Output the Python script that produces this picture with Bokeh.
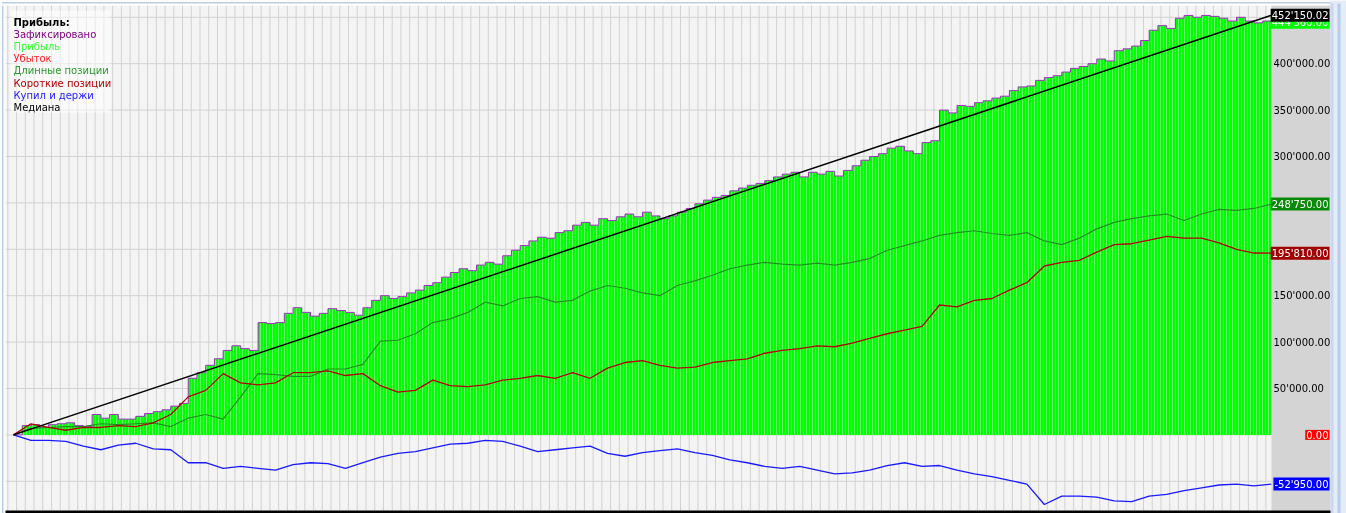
import numpy as np
from bokeh.plotting import figure
from bokeh.models import Range1d, Label, BoxAnnotation
from bokeh.embed import file_html
from bokeh.resources import INLINE

# ---------------- data (values in thousands unless stated) ----------------
profit_k = [0, 10, 11, 8, 11, 12, 13, 10, 9, 22, 18, 22, 17, 17, 20, 23, 25, 27, 31, 34,
            61, 67, 75, 82, 91, 96, 93, 91, 121, 120, 121, 131, 137, 132, 128, 131, 136, 134, 132, 129,
            137, 145, 150, 147, 149, 153, 156, 161, 164, 170, 175, 179, 177, 183, 186, 184, 193, 199, 204, 209,
            213, 212, 218, 220, 226, 229, 226, 233, 231, 235, 238, 235, 240, 236, 233, 236, 240, 244, 249, 253,
            256, 258, 263, 266, 269, 271, 274, 278, 281, 283, 278, 283, 281, 284, 279, 285, 290, 296, 300, 303,
            309, 311, 306, 303, 315, 317, 350, 347, 355, 354, 358, 360, 363, 365, 371, 375, 376, 382, 385, 387,
            391, 395, 397, 400, 405, 403, 414, 416, 419, 425, 436, 441, 438, 449, 452, 450, 452, 451, 449, 446,
            450, 446, 444, 446, 444.56]

long_k = [0, 7, 8, 9, 9, 12, 11, 12, 13, 9, 18, 22, 17, 41, 66, 65, 63, 63, 71, 71,
          76, 101, 102, 109, 121, 125, 132, 143, 139, 147, 149, 143, 145, 155, 161, 158, 153, 150, 161, 166,
          172, 179, 183, 186, 184, 183, 185, 183, 186, 190, 199, 204, 209, 215, 218, 220, 217, 215, 218, 209,
          205, 212, 222, 229, 233, 236, 238, 231, 238, 243, 242, 244, 248.75]

short_k = [0, 12, 8, 5, 8, 8, 10, 9, 13, 22, 41, 48, 66, 56, 54, 56, 67, 67, 69, 64,
           66, 53, 46, 48, 59, 53, 52, 54, 59, 61, 64, 61, 67, 61, 72, 78, 80, 75, 72, 73,
           78, 80, 82, 88, 91, 93, 96, 95, 99, 104, 109, 113, 117, 140, 138, 145, 147, 156, 164, 182,
           186, 188, 197, 205, 206, 210, 214, 212, 212, 207, 200, 196, 195.81]

buy_hold_k = [0, -6, -6, -7, -12, -16, -11, -9, -15, -16, -30, -30, -36, -34, -36, -38, -32, -30, -31, -36,
              -30, -24, -20, -18, -14, -10, -9, -6, -7, -12, -18, -16, -14, -12, -20, -23, -19, -17, -15, -19,
              -22, -27, -30, -34, -36, -34, -38, -42, -41, -38, -33, -30, -34, -33, -38, -42, -45, -49, -53, -75,
              -66, -66, -67, -71, -72, -66, -64, -60, -57, -54, -53, -55, -52.95]

median_values = [0.0, 452150.02]

legend_labels = ["Прибыль:", "Зафиксировано", "Прибыль", "Убыток", "Длинные позиции",
                 "Короткие позиции", "Купил и держи", "Медиана"]
legend_colors = ["#000000", "#800080", "#33ff33", "#ff1a1a", "#2a9a2a", "#b00000", "#2020ff", "#000000"]

y_ticks = [-50000, 0, 50000, 100000, 150000, 200000, 250000, 300000, 350000, 400000, 450000]
y_tick_labels = ["", "", "50'000.00", "100'000.00", "150'000.00", "", "", "300'000.00",
                 "350'000.00", "400'000.00", ""]

marker_values = [444560.00, 452150.02, 248750.00, 195810.00, 0.00, -52950.00]
marker_texts = ["444'560.00", "452'150.02", "248'750.00", "195'810.00", "0.00", "-52'950.00"]
marker_colors = ["#00ff00", "#000000", "#0a8a0a", "#a00000", "#ff0000", "#0000ff"]

# ---------------- derived arrays ----------------
profit = np.array(profit_k) * 1000.0
x_full = np.arange(len(profit))
x_half = np.arange(0, len(profit), 2)
long_pos = np.array(long_k) * 1000.0
short_pos = np.array(short_k) * 1000.0
buy_hold = np.array(buy_hold_k) * 1000.0
x_median = [0, len(profit) - 1]

W, H = 1346, 513
# layout (pixels): data origin and scale
X0_PX, DX_PX = 13.0, 8.736           # x of first period, px per period
Y0_PX, DY_PX = 434.4, 46.4 / 50000.0  # y of zero, px per unit value
PLOT_L, PLOT_R, PLOT_T, PLOT_B = 5, 1271, 5, 511


def dx(px):
    return (px - X0_PX) / DX_PX


def dy(py):
    return (Y0_PX - py) / DY_PX


FONT = "DejaVu Sans"

p = figure(width=W, height=H, output_backend="svg", toolbar_location=None,
           x_range=Range1d(dx(0), dx(W)), y_range=Range1d(dy(H), dy(0)),
           x_axis_location=None, y_axis_location=None,
           min_border_left=0, min_border_right=0, min_border_top=0, min_border_bottom=0)
p.styles = {"position": "fixed", "left": "0px", "top": "0px"}
p.background_fill_color = "#f4f4f4"
p.border_fill_color = "#f4f4f4"
p.outline_line_color = None
p.grid.visible = False

# grid lines (drawn as segments so they stop at the plot edge)
gx = np.arange(-0.65, 144, 1.0)
p.segment(x0=gx, x1=gx, y0=dy(PLOT_B), y1=dy(PLOT_T), line_color="#d2d2d2", line_width=1)
p.segment(x0=dx(PLOT_L), x1=dx(PLOT_R), y0=y_ticks, y1=y_ticks, line_color="#d2d2d2", line_width=1)

# profit area (bars)
p.varea_step(x=x_full, y1=0, y2=profit, step_mode="after", fill_color="#00ff00",
             hatch_pattern="vertical_line", hatch_color="#6cf26c", hatch_scale=3, hatch_weight=1)
p.step(x=x_full, y=profit, mode="after", line_color="#a030c0", line_width=1)

# lines
p.line(x_half, long_pos, line_color="#238c23", line_width=1.2)
p.line(x_half, short_pos, line_color="#b00000", line_width=1.3)
p.line(x_half, buy_hold, line_color="#1a1aff", line_width=1.3)
p.line(x_median, median_values, line_color="#000000", line_width=1.5)


def box(l, r, t, b, c, alpha=1.0):
    p.add_layout(BoxAnnotation(left=l, right=r, top=t, bottom=b,
                               left_units="canvas", right_units="canvas",
                               top_units="canvas", bottom_units="canvas",
                               fill_color=c, fill_alpha=alpha, line_color=None))


# legend background, axis panel, frame decorations
box(10, 110, 10, 112, "#ffffff", 0.5)
box(PLOT_R, 1330, PLOT_T, PLOT_B, "#d4d4d4")
box(0, PLOT_L, 0, H, "#ffffff")
box(1.5, 3, 2, H, "#b8cce8")
box(0, W, 0, PLOT_T, "#ffffff")
box(1.5, 1338, 1.5, 3, "#b8cce8")
box(1330, W, 0, H, "#e4ecf8")
box(1330, 1333, 3, H, "#c8d8f0")
box(1337, 1340, 3, H, "#b8cce8")
box(PLOT_L, 1330, PLOT_B - 1, PLOT_B + 1.5, "#000000")

# axis tick labels
for t, lab in zip(y_ticks, y_tick_labels):
    if lab:
        p.add_layout(Label(x=PLOT_R + 2, y=t, x_units="canvas", y_units="data",
                           text=lab, text_color="#000000", text_font=FONT, text_font_size="10px",
                           text_baseline="middle", text_align="left"))

# legend text
for k, (txt, col) in enumerate(zip(legend_labels, legend_colors)):
    p.add_layout(Label(x=13, y=21.5 + 12.2 * k, x_units="canvas", y_units="canvas",
                       text=txt, text_color=col, text_font=FONT, text_font_size="10px",
                       text_font_style="bold" if k == 0 else "normal",
                       text_baseline="alphabetic", text_align="left"))

# right-side value markers
for v, txt, col in zip(marker_values, marker_texts, marker_colors):
    p.add_layout(Label(x=1329, y=v, x_units="canvas", y_units="data",
                       text=txt, text_color="#ffffff", text_font=FONT, text_font_size="10px",
                       text_baseline="middle", text_align="right",
                       background_fill_color=col, background_fill_alpha=1, padding=1))

open("out.html", "w").write(file_html(p, INLINE))
